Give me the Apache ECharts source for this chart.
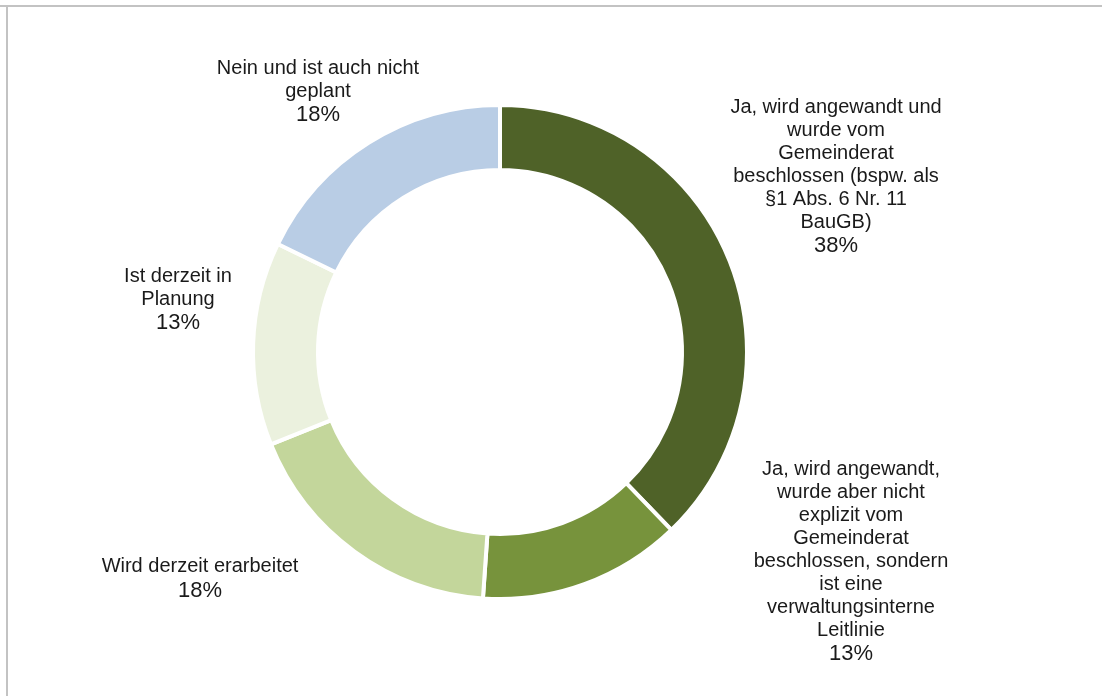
<!DOCTYPE html>
<html>
<head>
<meta charset="utf-8">
<script src="https://cdn.jsdelivr.net/npm/echarts@6/dist/echarts.min.js"></script>
<style>html,body{margin:0;padding:0;background:#fff}#c{width:1102px;height:696px}</style>
</head>
<body>
<div id="c"></div>
<script>
// Categories (line breaks as wrapped in the reference)
const categories = [
  "Ja, wird angewandt und\nwurde vom\nGemeinderat\nbeschlossen (bspw. als\n§1 Abs. 6 Nr. 11\nBauGB)",
  "Ja, wird angewandt,\nwurde aber nicht\nexplizit vom\nGemeinderat\nbeschlossen, sondern\nist eine\nverwaltungsinterne\nLeitlinie",
  "Wird derzeit erarbeitet",
  "Ist derzeit in\nPlanung",
  "Nein und ist auch nicht\ngeplant"
];
const shares = [37.8, 13.3, 17.8, 13.3, 17.8];
const colors = ["#4f6228", "#77933c", "#c3d69b", "#ebf1de", "#b9cde5"];
// label centres (layout only)
const labelCenters = [[836, 177], [851, 562], [200, 579], [178, 300], [318, 92]];

const chart = echarts.init(document.getElementById('c'), null, {renderer: 'canvas'});
chart.setOption({
  animation: false,
  backgroundColor: '#ffffff',
  graphic: [
    {type: 'line', shape: {x1: 0, y1: 6, x2: 1102, y2: 6}, style: {stroke: '#c3c3c3', lineWidth: 2}},
    {type: 'line', shape: {x1: 7, y1: 6, x2: 7, y2: 696}, style: {stroke: '#c3c3c3', lineWidth: 2}}
  ],
  series: [{
    type: 'pie',
    center: [500, 352],
    radius: [182, 247],
    startAngle: 90,
    clockwise: true,
    itemStyle: {borderColor: '#ffffff', borderWidth: 4},
    label: {
      show: true,
      position: 'outside',
      formatter: p => '{n|' + p.name.split('\n').join('}\n{n|') + '}\n{p|' + Math.round(p.value) + '%}',
      rich: {
        n: {fontFamily: 'Liberation Sans, Arial, sans-serif', fontSize: 20, lineHeight: 23, color: '#1a1a1a', align: 'center'},
        p: {fontFamily: 'Liberation Sans, Arial, sans-serif', fontSize: 22, lineHeight: 25, color: '#1a1a1a', align: 'center'}
      },
      align: 'center'
    },
    labelLine: {show: false},
    labelLayout: function (params) {
      const c = labelCenters[params.dataIndex];
      return {x: c[0], y: c[1], align: 'center', verticalAlign: 'middle'};
    },
    emphasis: {disabled: true},
    data: categories.map((n, i) => ({name: n, value: shares[i], itemStyle: {color: colors[i]}}))
  }]
});
</script>
</body>
</html>
